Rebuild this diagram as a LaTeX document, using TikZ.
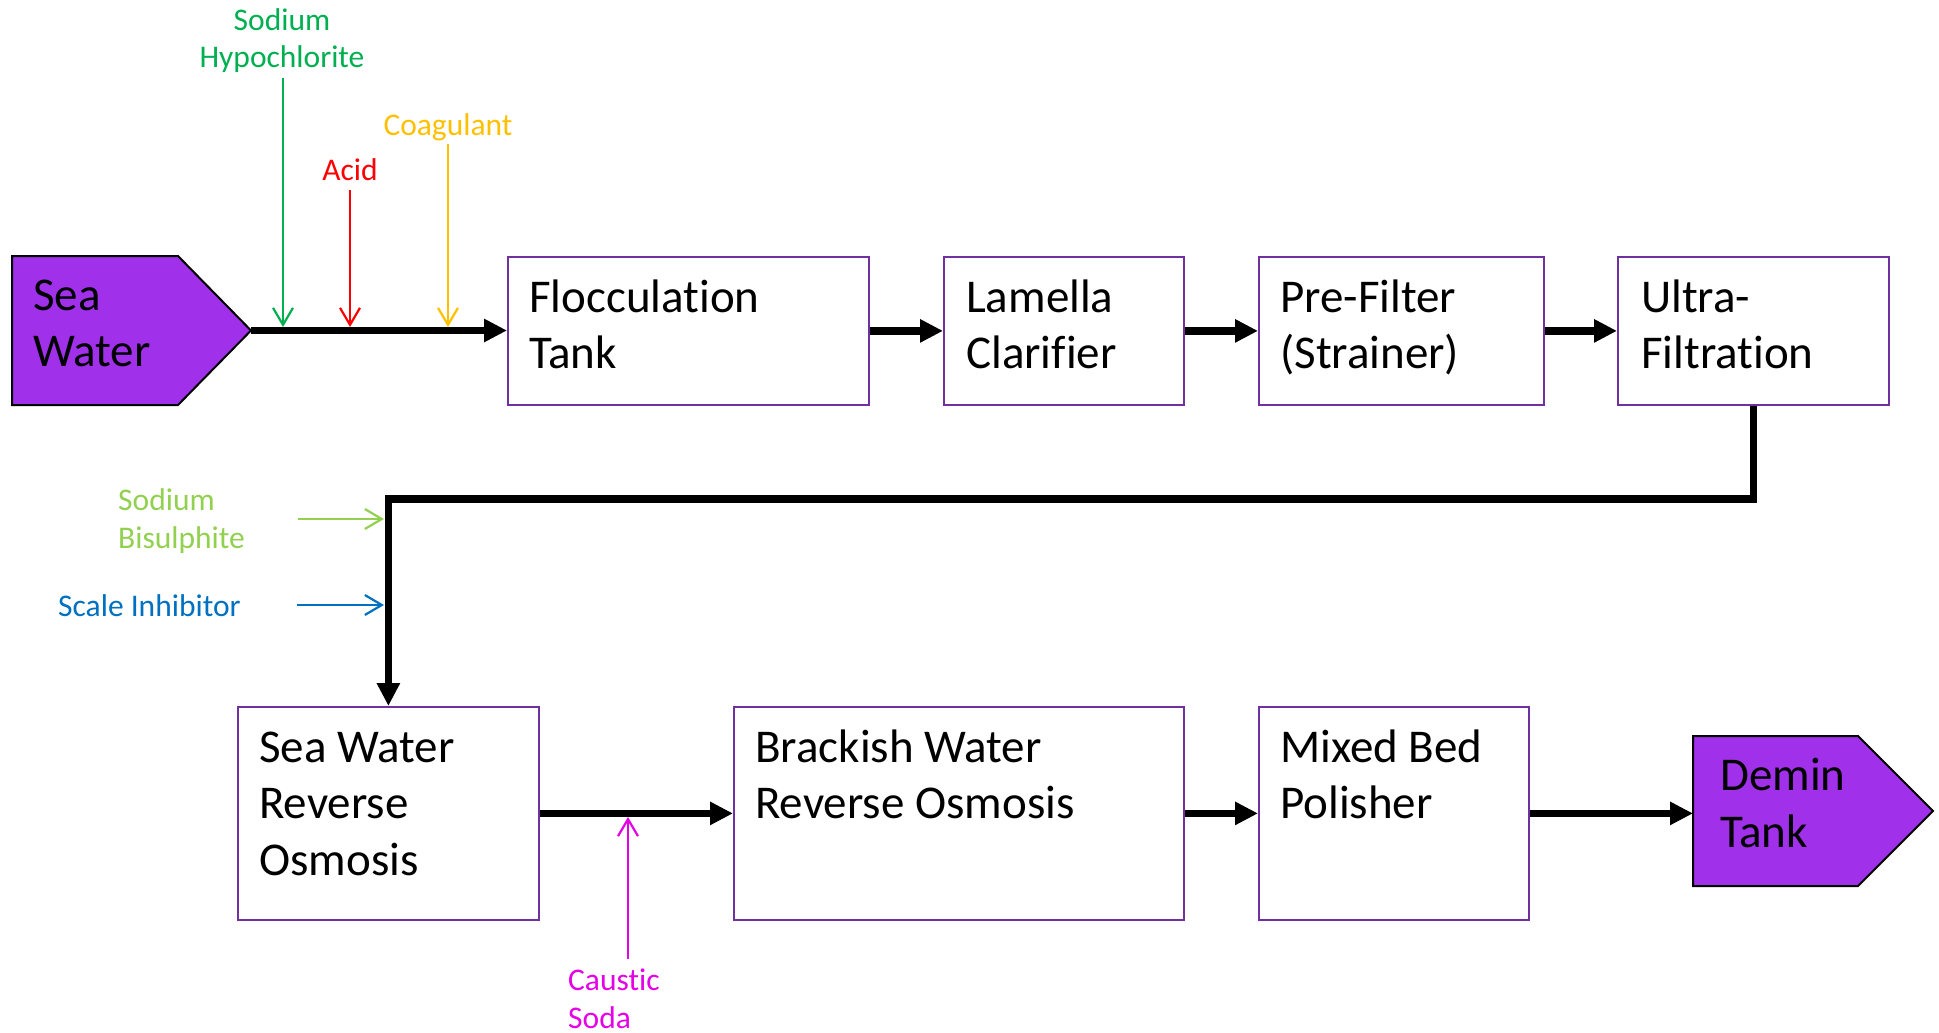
\documentclass[tikz,border=0pt]{standalone}
\usepackage{fontspec}
\setmainfont{Carlito}[Ligatures=NoCommon]
\usetikzlibrary{arrows.meta}

\definecolor{boxpurple}{RGB}{112,48,160}
\definecolor{tankpurple}{RGB}{160,48,234}
\definecolor{hypogreen}{RGB}{0,176,80}
\definecolor{acidred}{RGB}{255,0,0}
\definecolor{coagyellow}{RGB}{255,192,0}
\definecolor{bisulgreen}{RGB}{146,208,80}
\definecolor{scaleblue}{RGB}{0,112,192}
\definecolor{causticpink}{RGB}{230,0,230}

\newcommand{\boxfont}{\fontsize{47}{56.5}\selectfont}
\newcommand{\dosefont}{\fontsize{31.5}{38}\selectfont}

\begin{document}
\begin{tikzpicture}[x=1pt,y=-1pt,
    unit/.style={draw=boxpurple,line width=1.8pt,fill=white,anchor=north west,inner sep=0pt},
    unittext/.style={anchor=base west,align=left,inner sep=0pt,font=\boxfont},
    tank/.style={draw=black,line width=2pt,fill=tankpurple},
    dosetext/.style={inner sep=0pt,font=\dosefont},
    flow/.style={line width=7.5pt,-{Triangle[length=23pt,width=22pt]}},
    dose/.style={draw=#1,line width=2.2pt,-{Straight Barb[length=17pt,width=20pt]}}]

    \useasboundingbox (0,0) rectangle (1939,1033);

    % tanks at both ends (text placed by its last baseline)
    \filldraw[tank] (12,256) -- (178,256) -- (251,330.5) -- (178,405) -- (12,405) -- cycle;
    \coordinate (seatip) at (251,330.5);
    \node[unittext] (sea) at (33,366.5) {Sea\\Water};

    \filldraw[tank] (1693,736) -- (1858,736) -- (1933,811) -- (1858,886) -- (1693,886) -- cycle;
    \coordinate (deminin) at (1693,811);
    \node[unittext] (demin) at (1720,847) {Demin\\Tank};

    % first row of units
    \node[unit,minimum width=361pt,minimum height=148pt] (floc) at (507,256) {};
    \node[unit,minimum width=240pt,minimum height=148pt] (lam) at (943,256) {};
    \node[unit,minimum width=285pt,minimum height=148pt] (pre) at (1258,256) {};
    \node[unit,minimum width=271pt,minimum height=148pt] (ultra) at (1617,256) {};
    \node[unittext] (flocT) at (529,368.5) {Flocculation\\Tank};
    \node[unittext] (lamT) at (966,368.5) {Lamella\\Clarifier};
    \node[unittext] (preT) at (1280,368.5) {Pre-Filter\\(Strainer)};
    \node[unittext] (ultraT) at (1641,368.5) {Ultra-\\Filtration};

    % second row of units
    \node[unit,minimum width=301pt,minimum height=213pt] (swro) at (237,706) {};
    \node[unit,minimum width=450pt,minimum height=213pt] (bwro) at (733,706) {};
    \node[unit,minimum width=270pt,minimum height=213pt] (mbp) at (1258,706) {};
    \node[unittext] (swroT) at (259,875) {Sea Water\\Reverse\\Osmosis};
    \node[unittext] (bwroT) at (755,818.5) {Brackish Water\\Reverse Osmosis};
    \node[unittext] (mbpT) at (1280,818.5) {Mixed Bed\\Polisher};

    % main water flow
    \draw[flow] (seatip) -- (seatip -| floc.west);
    \draw[flow] (floc.east) -- (lam.west);
    \draw[flow] (lam.east) -- (pre.west);
    \draw[flow] (pre.east) -- (ultra.west);
    \draw[flow] (ultra.south) -- ++(0,93) -| (swro.north);
    \draw[flow] (swro.east) -- (bwro.west);
    \draw[flow] (bwro.east) -- (mbp.west);
    \draw[flow] (mbp.east) -- (mbp.east -| deminin);

    % dosing points on the flow lines
    \coordinate (hypoin) at (283,327);
    \coordinate (acidin) at (350,327);
    \coordinate (coagin) at (448,327);
    \coordinate (bisulin) at (384,519);
    \coordinate (scalein) at (384,605);
    \coordinate (causticin) at (628,817);

    % chemicals
    \node[dosetext,text=hypogreen,anchor=base,align=center] (hypo) at (282,68) {Sodium\\Hypochlorite};
    \node[dosetext,text=acidred,anchor=base] (acid) at (350,180) {Acid};
    \node[dosetext,text=coagyellow,anchor=base] (coag) at (448,135) {Coagulant};
    \node[dosetext,text=bisulgreen,anchor=base west,align=left] (bisul) at (118,548) {Sodium\\Bisulphite};
    \node[dosetext,text=scaleblue,anchor=base west] (scale) at (58,616) {Scale Inhibitor};
    \node[dosetext,text=causticpink,anchor=base west,align=left] (caustic) at (568,1028) {Caustic\\Soda};

    \draw[dose=hypogreen,shorten <=4.5pt] (hypo.south -| hypoin) -- (hypoin);
    \draw[dose=acidred,shorten <=10pt] (acid.south -| acidin) -- (acidin);
    \draw[dose=coagyellow,shorten <=3.5pt] (coag.south -| coagin) -- (coagin);
    \draw[dose=bisulgreen,shorten <=53pt] (bisul.east |- bisulin) -- (bisulin);
    \draw[dose=scaleblue,shorten <=56pt] (scale.east |- scalein) -- (scalein);
    \draw[dose=causticpink,shorten <=9pt] (caustic.north -| causticin) -- (causticin);
\end{tikzpicture}
\end{document}
